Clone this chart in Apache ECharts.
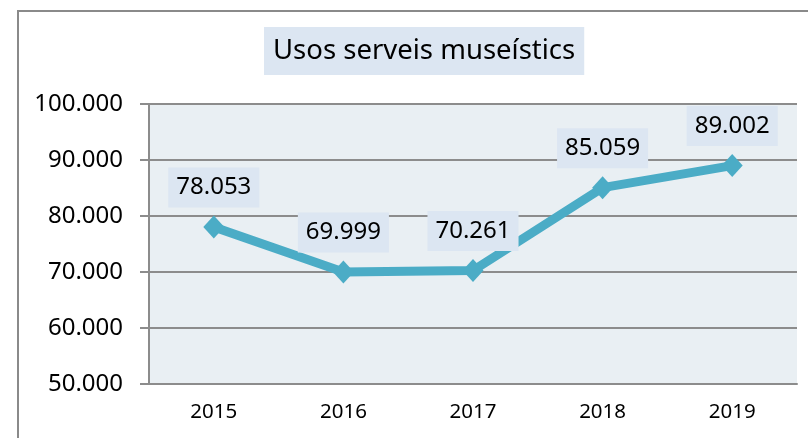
<!DOCTYPE html>
<html>
<head>
<meta charset="utf-8">
<script src="https://cdn.jsdelivr.net/npm/echarts@6/dist/echarts.min.js"></script>
<style>
  html, body { margin: 0; padding: 0; background: #fff; }
  #chart { width: 808px; height: 438px; }
</style>
</head>
<body>
<div id="chart"></div>
<script>
const years = ['2015', '2016', '2017', '2018', '2019']
const usos = [78053, 69999, 70261, 85059, 89002]
const titleText = 'Usos serveis museístics'

const fmt = v => {
  const s = String(Math.round(v))
  return s.replace(/\B(?=(\d{3})+(?!\d))/g, '.')
}

const myChart = echarts.init(document.getElementById('chart'))
myChart.setOption({
  animation: false,
  textStyle: { fontFamily: 'Noto Sans' },
  title: {
    text: titleText,
    left: 264,
    top: 27,
    backgroundColor: '#DCE6F2',
    padding: [10, 9],
    textStyle: { fontSize: 27.5, lineHeight: 28, fontWeight: 'normal', color: '#000', fontFamily: 'Noto Sans' }
  },
  graphic: [{
    type: 'rect',
    shape: { x: 18, y: 11, width: 820, height: 460 },
    style: { fill: 'none', stroke: '#8a8a8a', lineWidth: 2 },
    silent: true
  }],
  grid: {
    left: 149,
    right: 11,
    top: 104,
    bottom: 54,
    show: true,
    backgroundColor: '#E9EFF3',
    borderWidth: 0
  },
  xAxis: {
    type: 'category',
    data: years,
    boundaryGap: true,
    axisLine: { show: true, lineStyle: { color: '#8c8c8c', width: 2 } },
    axisTick: { show: false },
    axisLabel: { color: '#000', fontSize: 20.5, margin: 18 }
  },
  yAxis: {
    type: 'value',
    min: 50000,
    max: 100000,
    interval: 10000,
    axisLine: { show: true, lineStyle: { color: '#8c8c8c', width: 2 } },
    axisTick: { show: true, length: 9, lineStyle: { color: '#8c8c8c', width: 2 } },
    splitLine: { show: true, lineStyle: { color: '#8c8c8c', width: 2 } },
    axisLabel: { color: '#000', fontSize: 24, margin: 26, formatter: fmt }
  },
  series: [{
    type: 'line',
    data: usos,
    symbol: 'diamond',
    symbolSize: [21, 23],
    lineStyle: { color: '#4BACC6', width: 9 },
    itemStyle: { color: '#4BACC6' },
    label: {
      show: true,
      position: 'top',
      distance: 8,
      formatter: p => fmt(p.value),
      color: '#000',
      fontSize: 24,
      lineHeight: 24,
      backgroundColor: '#DCE6F2',
      padding: [8, 8]
    }
  }]
})
window.addEventListener('resize', () => {
  myChart.resize()
})
</script>
</body>
</html>
